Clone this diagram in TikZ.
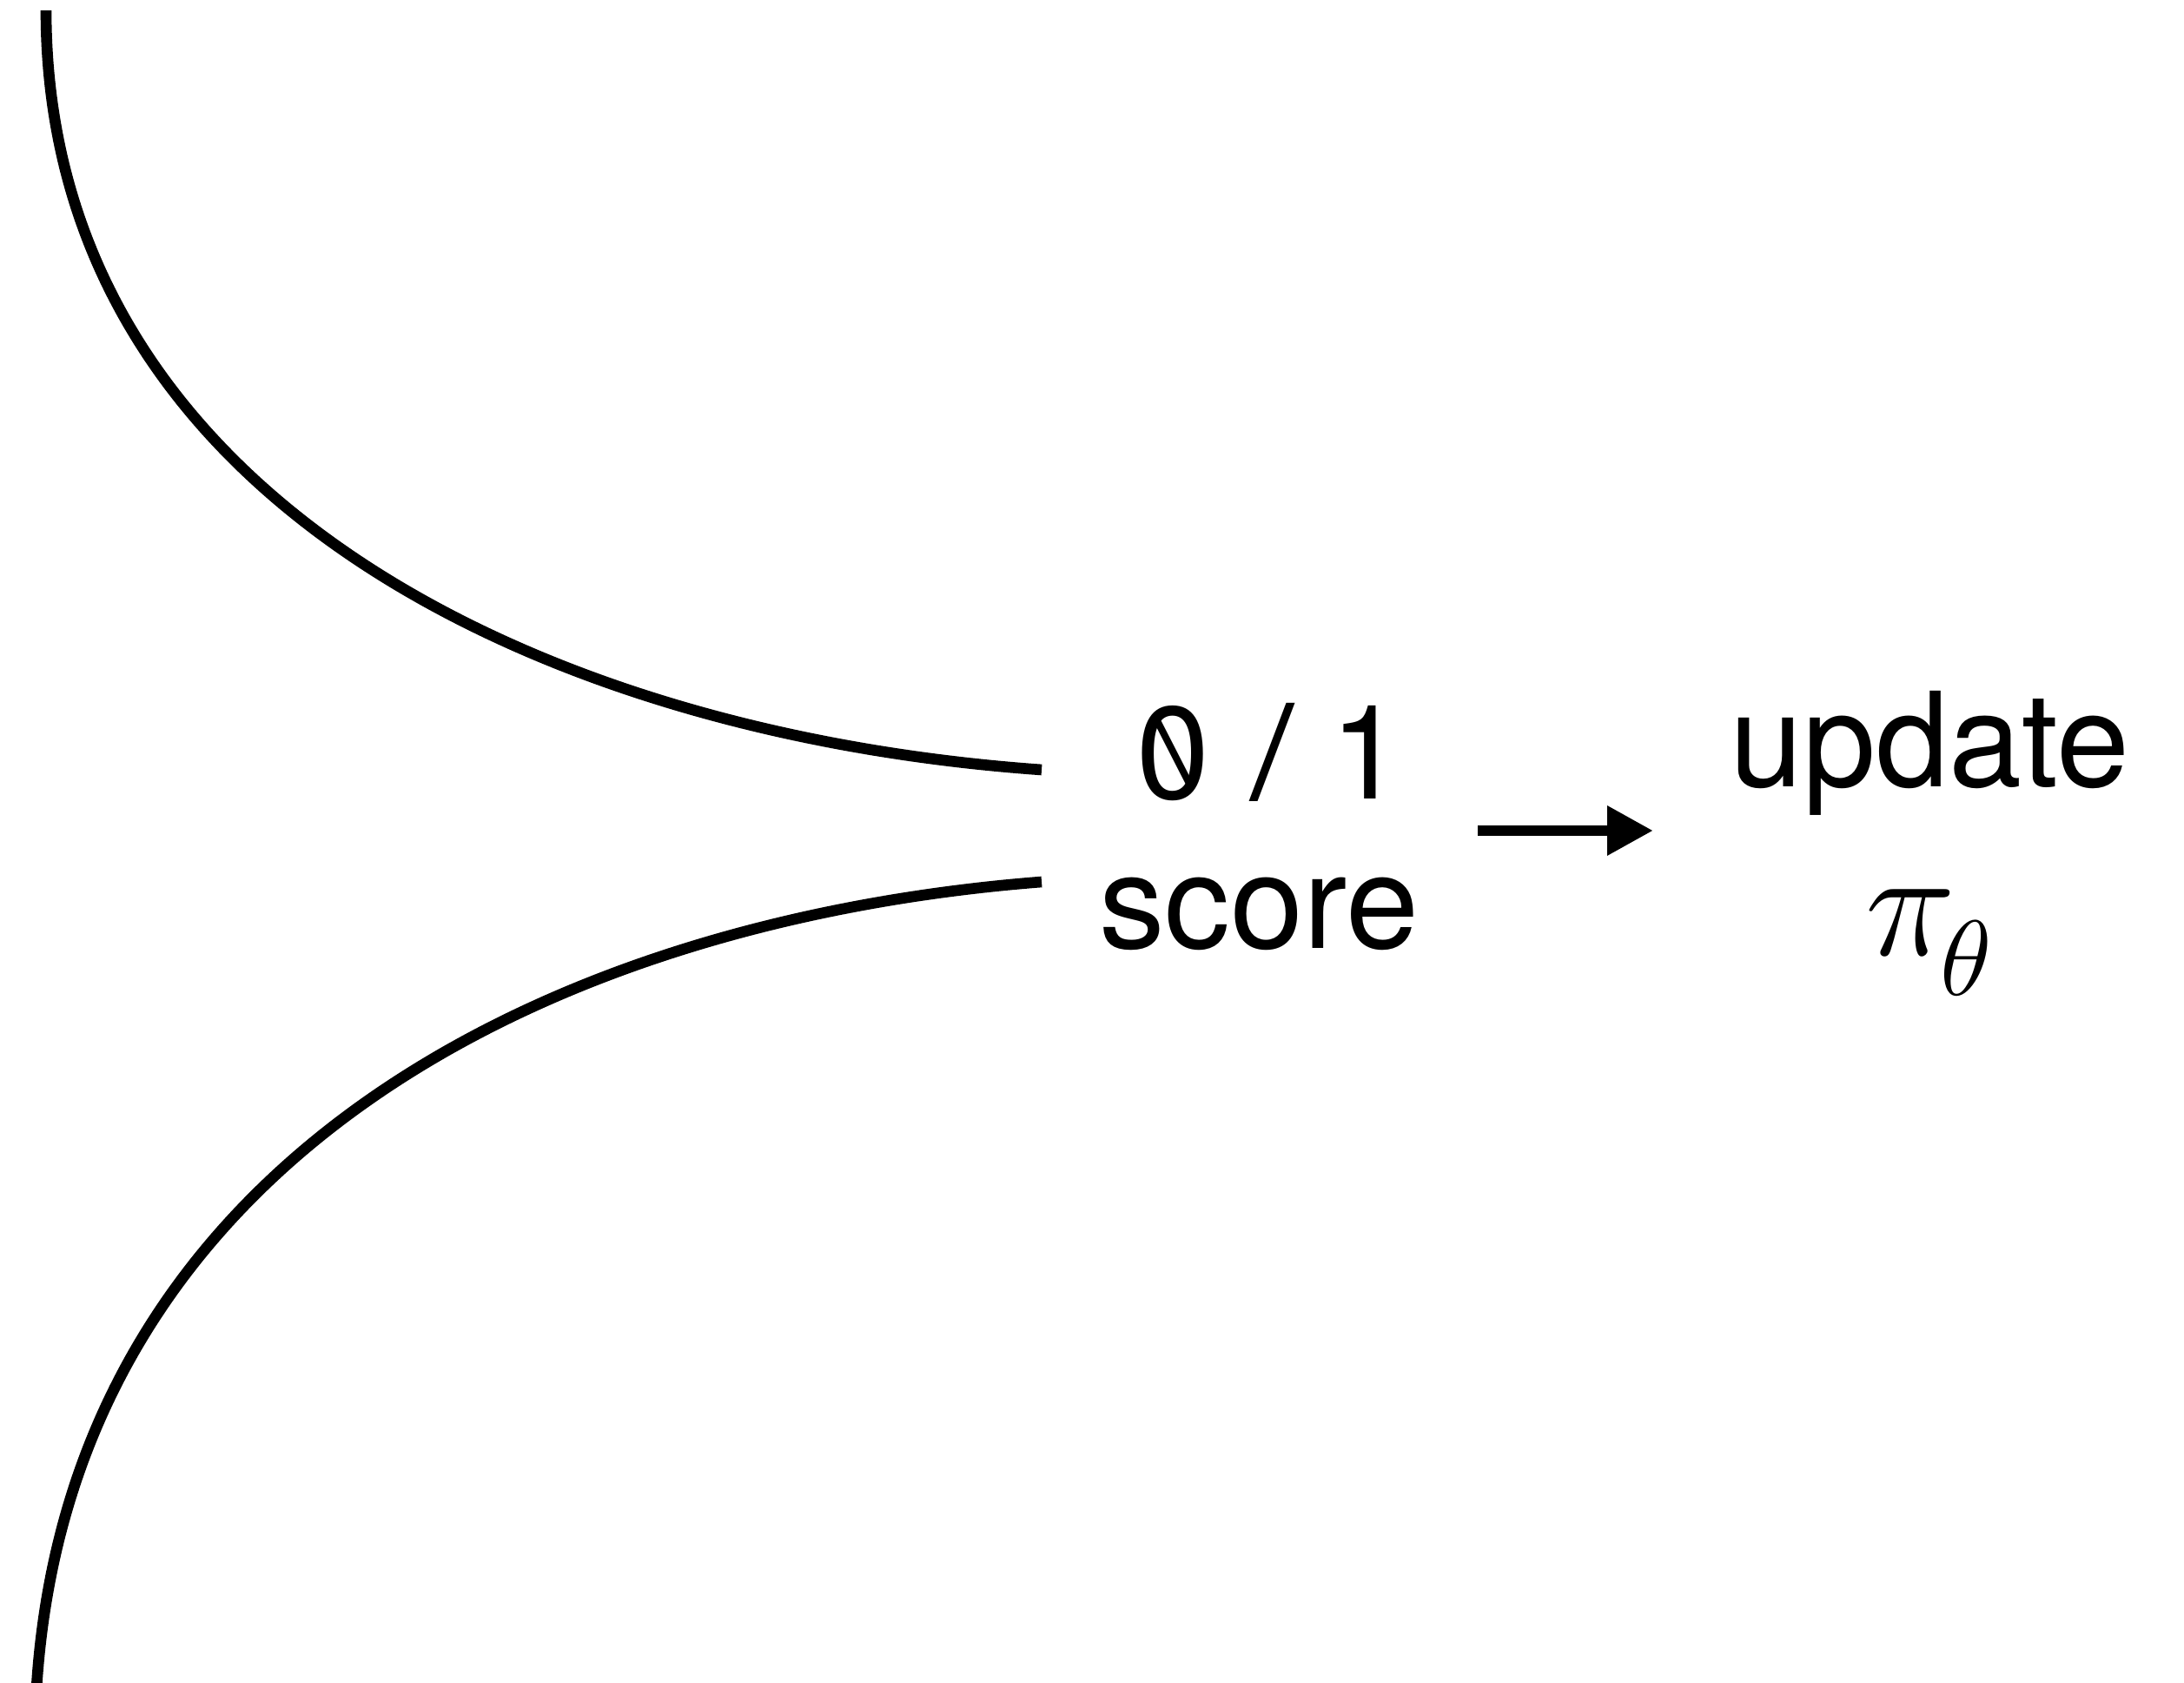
\RequirePackage{fix-cm}
\documentclass[tikz,border=0pt]{standalone}
\usepackage{fontspec}
\setmainfont{TeX Gyre Heros}
\usepackage{graphicx}
\usetikzlibrary{arrows.meta}

% cero tachado
\newcommand{\slashzero}{\ooalign{0\cr\hidewidth\raisebox{0.12em}{\scalebox{1.1}[0.68]{\textbackslash}}\hidewidth\cr}}

\begin{document}
\begin{tikzpicture}[
    curva/.style={line width=3.6pt},
    texto/.style={anchor=base, inner sep=0pt, font=\fontsize{43}{52}\selectfont},
    flecha/.style={line width=3.6pt, -{Triangle[length=0.53cm, width=0.54cm]}}
  ]
        \useasboundingbox (0,0) rectangle (25.14,19.37);

        % Coordenadas
        \coordinate (T0) at (0.53,19.25);
        \coordinate (T1) at (11.99,10.51);
        \coordinate (B0) at (11.99,9.22);
        \coordinate (B1) at (0.40,-0.73);

        % Curvas
        \draw[curva] (T0) .. controls (0.53,13.67) and (6.20,10.92) .. (T1);
        \draw[curva] (B0) .. controls (6.20,8.77) and (0.40,5.87) .. (B1);

        % Textos
        \node[texto] (recompensa) at (14.62,10.17) {\slashzero\kern0.03em\ \scalebox{1.2}[1]{/}\ 1};
        \node[texto] (score) at (14.49,8.45) {score};
        \node[texto] (update) at (22.21,10.31) {update};
        \node[texto, font=\fontsize{50}{60}\selectfont] (politica) at (22.20,8.37)
            {$\pi\kern-0.1em\lower0.26em\hbox{$\scriptstyle\theta$}$};

        % Flecha
        \coordinate (F0) at (17.01,9.81);
        \coordinate (F1) at (19.03,9.81);
        \draw[flecha] (F0) -- (F1);
\end{tikzpicture}
\end{document}
